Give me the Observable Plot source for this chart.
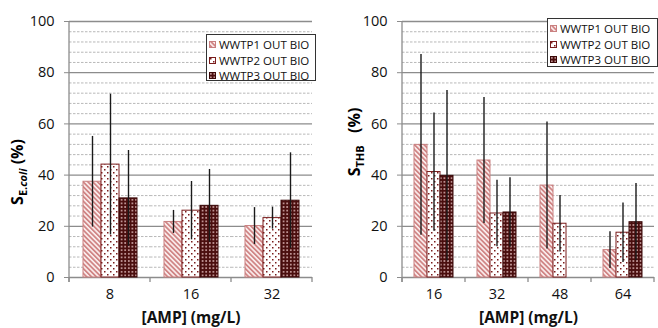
<!DOCTYPE html>
<html><head><meta charset="utf-8">
<script src="https://cdn.jsdelivr.net/npm/d3@7"></script>
<script src="https://cdn.jsdelivr.net/npm/@observablehq/plot@0.6"></script>
<style>
body{margin:0;background:#fff;}
#wrap{position:relative;width:658px;height:328px;overflow:hidden;font-family:"Open Sans",sans-serif;background:#fff;}
.panel{position:absolute;top:0;}
.panel svg{overflow:visible;}
g[aria-label="fx-axis label"] text, g[aria-label="fx-axis label"]{font-weight:bold;font-size:15.5px;}
.ytitle{position:absolute;transform:translate(-50%,-50%) rotate(-90deg);font-weight:bold;font-size:16px;white-space:nowrap;color:#000;}
.ytitle sub{font-size:11px;vertical-align:-4px;}
.legend{position:absolute;background:#fff;border:1px solid #333;box-sizing:border-box;font-size:11.5px;color:#111;padding-top:2px;}
.legend .row{display:flex;align-items:center;height:15.5px;white-space:nowrap;}
.legend svg{margin-right:3px;flex:none;}
</style></head>
<body>
<svg width="0" height="0" style="position:absolute">
  <defs>
    <pattern id="p1" patternUnits="userSpaceOnUse" width="3.4" height="3.4" patternTransform="rotate(-45)">
      <rect width="3.4" height="3.4" fill="#fcf0f0"/>
      <rect width="1.8" height="3.4" fill="#d08585"/>
    </pattern>
    <pattern id="p2" patternUnits="userSpaceOnUse" width="6" height="6">
      <rect width="6" height="6" fill="#ffffff"/>
      <rect x="1" y="1" width="1.5" height="1.5" fill="#7a1c1c"/>
      <rect x="4" y="4" width="1.5" height="1.5" fill="#7a1c1c"/>
    </pattern>
    <pattern id="p3" patternUnits="userSpaceOnUse" width="3.6" height="3.6">
      <rect width="3.6" height="3.6" fill="#4a0e0e"/>
      <rect x="1" y="1" width="1.6" height="1.6" fill="#d9b3b3"/>
    </pattern>
  </defs>
</svg>
<div id="wrap"></div>
<script>
// ---- data ----
const series = ["WWTP1 OUT BIO", "WWTP2 OUT BIO", "WWTP3 OUT BIO"];

const ecoliConc = ["8", "16", "32"];
const ecoliMean1 = [37.4, 21.7, 20.1];
const ecoliErr1  = [17.7, 4.5, 7.2];
const ecoliMean2 = [44.1, 26.1, 23.2];
const ecoliErr2  = [27.5, 11.4, 4.3];
const ecoliMean3 = [30.9, 28.0, 30.0];
const ecoliErr3  = [18.7, 14.2, 18.7];

const thbConc = ["16", "32", "48", "64"];
const thbMean1 = [51.8, 45.7, 35.9, 10.7];
const thbErr1  = [35.3, 24.6, 24.8, 7.2];
const thbMean2 = [41.2, 25.0, 21.0, 17.5];
const thbErr2  = [23.1, 13.0, 11.0, 11.6];
const thbMean3 = [39.7, 25.4, null, 21.6];
const thbErr3  = [33.3, 13.6, null, 15.1];

const majorTicks = [0, 20, 40, 60, 80, 100];
const minorTicks = [4, 8, 12, 16, 24, 28, 32, 36, 44, 48, 52, 56, 64, 68, 72, 76, 84, 88, 92, 96];

// ---- style ----
const fills = ["url(#p1)", "url(#p2)", "url(#p3)"];
const strokes = ["#c98080", "#7a1c1c", "#3a0808"];
const gridMajor = "#8c8c8c";
const gridMinor = "#b8b8b8";

function rows(conc, means, errs) {
  const out = [];
  conc.forEach((c, j) => {
    series.forEach((s, i) => {
      const m = means[i][j];
      if (m != null) out.push({conc: c, series: s, mean: m, err: errs[i][j]});
    });
  });
  return out;
}

function makeChart(conc, means, errs, o) {
  const data = rows(conc, means, errs);
  const chart = Plot.plot({
    width: o.width, height: 328,
    marginLeft: o.ml, marginRight: o.mr, marginTop: 21, marginBottom: 51,
    style: {fontFamily: '"Open Sans", sans-serif', fontSize: "14.5px", color: "#111", background: "transparent"},
    fx: {domain: conc, padding: 0},
    x: {domain: series, paddingInner: 0, paddingOuter: o.po, axis: null},
    y: {domain: [0, 100]},
    marks: [
      Plot.ruleY(minorTicks, {stroke: gridMinor, strokeDasharray: "2.5,1.5", strokeWidth: 1}),
      Plot.ruleY(majorTicks, {stroke: gridMajor, strokeWidth: 1.3}),
      ...series.map((s, i) => Plot.barY(data.filter(d => d.series === s), {
        fx: "conc", x: "series", y: "mean", fill: fills[i], stroke: strokes[i], strokeWidth: 1
      })),
      Plot.ruleX(data, {fx: "conc", x: "series", y1: d => d.mean - d.err, y2: d => d.mean + d.err, stroke: "#1a1a1a", strokeWidth: 1.4}),
      Plot.axisY({ticks: majorTicks, tickSize: 5, tickPadding: 10, stroke: gridMajor, fontSize: 14.5, label: null}),
      Plot.axisFx({anchor: "bottom", tickSize: 0, tickPadding: 11, fontSize: 14.5, label: "[AMP] (mg/L)", labelAnchor: "center", labelOffset: 45})
    ]
  });
  // axis line and band-boundary ticks from the library's scales
  const fx = chart.scale("fx"), y = chart.scale("y");
  const svg = d3.select(chart);
  const y0 = y.apply(0), y100 = y.apply(100);
  const xs = conc.map(c => fx.apply(c)).concat([fx.apply(conc[conc.length - 1]) + fx.bandwidth]);
  const g = svg.append("g").attr("stroke", gridMajor).attr("stroke-width", 1.3);
  g.append("line").attr("x1", xs[0]).attr("x2", xs[0]).attr("y1", y0 + 5).attr("y2", y100);
  xs.forEach(x => g.append("line").attr("x1", x).attr("x2", x).attr("y1", y0).attr("y2", y0 + 5));
  return chart;
}

function legend(left, top, w, h) {
  const div = document.createElement("div");
  div.className = "legend";
  Object.assign(div.style, {left: left + "px", top: top + "px", width: w + "px", height: h + "px", paddingLeft: "2px"});
  series.forEach((s, i) => {
    const row = document.createElement("div");
    row.className = "row";
    row.innerHTML = `<svg width="7" height="7"><rect x="0.5" y="0.5" width="6" height="6" fill="${fills[i]}" stroke="${strokes[i]}"/></svg><span>${s}</span>`;
    div.appendChild(row);
  });
  return div;
}

const wrap = document.getElementById("wrap");

const p1 = document.createElement("div");
p1.className = "panel"; p1.style.left = "0px";
p1.appendChild(makeChart(ecoliConc, [ecoliMean1, ecoliMean2, ecoliMean3], [ecoliErr1, ecoliErr2, ecoliErr3], {width: 330, ml: 68, mr: 17, po: 0.706}));
wrap.appendChild(p1);

const p2 = document.createElement("div");
p2.className = "panel"; p2.style.left = "330px";
p2.appendChild(makeChart(thbConc, [thbMean1, thbMean2, thbMean3], [thbErr1, thbErr2, thbErr3], {width: 328, ml: 71, mr: 3, po: 0.79}));
wrap.appendChild(p2);

const t1 = document.createElement("div");
t1.className = "ytitle"; t1.style.left = "18px"; t1.style.top = "172px";
t1.innerHTML = 'S<sub>E.<i>coli</i></sub> (%)';
wrap.appendChild(t1);

const t2 = document.createElement("div");
t2.className = "ytitle"; t2.style.left = "355px"; t2.style.top = "142px";
t2.innerHTML = 'S<sub>THB</sub>&nbsp;&nbsp; (%)';
wrap.appendChild(t2);

wrap.appendChild(legend(206, 34, 110, 47));
wrap.appendChild(legend(547, 18, 111, 49));
</script>
</body></html>
